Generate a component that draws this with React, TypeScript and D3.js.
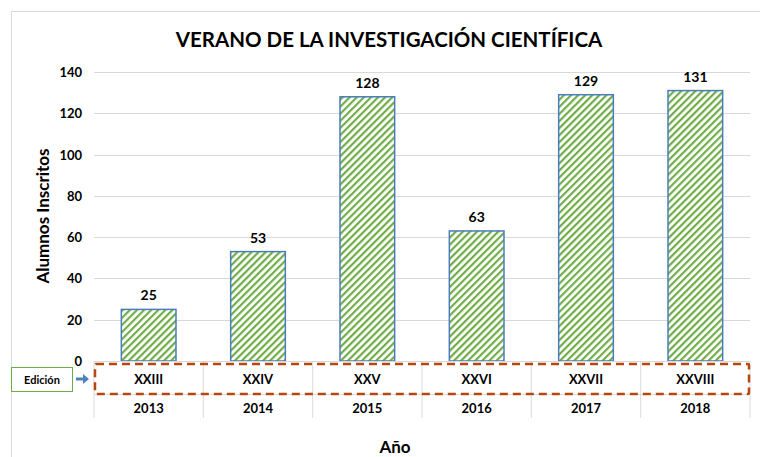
import React, { useEffect, useRef } from 'react';
import * as d3 from 'd3';

const years = ['2013', '2014', '2015', '2016', '2017', '2018'];
const editions = ['XXIII', 'XXIV', 'XXV', 'XXVI', 'XXVII', 'XXVIII'];
const students = [25, 53, 128, 63, 129, 131];
const yTicks = [0, 20, 40, 60, 80, 100, 120, 140];

const W = 760;
const H = 457;
const FONT = 'Lato, "Open Sans", sans-serif';

const App = () => {
  const ref = useRef<SVGSVGElement>(null);

  useEffect(() => {
    const svg = d3.select(ref.current);
    svg.selectAll('*').remove();

    const left = 94, right = 750, top = 72, bottom = 361;
    const x = d3.scaleBand().domain(years).range([left, right]).paddingInner(0.5).paddingOuter(0.25);
    const y = d3.scaleLinear().domain([0, 140]).range([bottom, top]);

    // hatch pattern (upward diagonal)
    const defs = svg.append('defs');
    const pat = defs.append('pattern')
      .attr('id', 'hatch')
      .attr('patternUnits', 'userSpaceOnUse')
      .attr('width', 5).attr('height', 5)
      .attr('patternTransform', 'rotate(45)');
    pat.append('rect').attr('width', 5).attr('height', 5).attr('fill', '#fff');
    pat.append('rect').attr('x', 0).attr('width', 2.2).attr('height', 5).attr('fill', '#70ad47');

    // chart frame
    svg.append('rect').attr('x', 11.5).attr('y', 11.5).attr('width', 760).attr('height', 460)
      .attr('fill', '#fff').attr('stroke', '#d9d9d9');

    svg.append('text').attr('x', 389).attr('y', 47).attr('text-anchor', 'middle')
      .attr('font-family', FONT).attr('font-weight', 700).attr('font-size', 20.5)
      .text('VERANO DE LA INVESTIGACIÓN CIENTÍFICA');

    // gridlines
    svg.append('g').selectAll('line').data(yTicks.slice(1)).join('line')
      .attr('x1', left).attr('x2', right)
      .attr('y1', d => Math.round(y(d)) + 0.5).attr('y2', d => Math.round(y(d)) + 0.5)
      .attr('stroke', '#d9d9d9');

    svg.append('g').selectAll('text').data(yTicks).join('text')
      .attr('x', 82).attr('y', d => y(d) + 5).attr('text-anchor', 'end')
      .attr('font-family', FONT).attr('font-weight', 700).attr('font-size', 13)
      .text(d => d);

    // bars
    svg.append('g').selectAll('rect').data(students).join('rect')
      .attr('x', (d, i) => x(years[i])!)
      .attr('y', d => y(d))
      .attr('width', x.bandwidth())
      .attr('height', d => bottom - y(d))
      .attr('fill', 'url(#hatch)')
      .attr('stroke', '#4a7ebb').attr('stroke-width', 1.5);

    svg.append('g').selectAll('text').data(students).join('text')
      .attr('x', (d, i) => x(years[i])! + x.bandwidth() / 2)
      .attr('y', d => y(d) - 9)
      .attr('text-anchor', 'middle')
      .attr('font-family', FONT).attr('font-weight', 700).attr('font-size', 14)
      .text(d => d);

    // data table
    const step = x.step();
    const cols = d3.range(years.length + 1).map(i => left + i * step);
    svg.append('g').selectAll('line').data(cols).join('line')
      .attr('x1', d => d).attr('x2', d => d).attr('y1', bottom).attr('y2', 418)
      .attr('stroke', '#d9d9d9');
    svg.append('line').attr('x1', left).attr('x2', right).attr('y1', bottom + 0.5).attr('y2', bottom + 0.5)
      .attr('stroke', '#d9d9d9');
    svg.append('line').attr('x1', left).attr('x2', right).attr('y1', 394.5).attr('y2', 394.5)
      .attr('stroke', '#d9d9d9');

    svg.append('g').selectAll('text').data(editions).join('text')
      .attr('x', (d, i) => x(years[i])! + x.bandwidth() / 2).attr('y', 384)
      .attr('text-anchor', 'middle')
      .attr('font-family', FONT).attr('font-weight', 700).attr('font-size', 13)
      .text(d => d);
    svg.append('g').selectAll('text').data(years).join('text')
      .attr('x', d => x(d)! + x.bandwidth() / 2).attr('y', 413)
      .attr('text-anchor', 'middle')
      .attr('font-family', FONT).attr('font-weight', 700).attr('font-size', 13)
      .text(d => d);

    svg.append('rect').attr('x', 95).attr('y', 364).attr('width', 654).attr('height', 30)
      .attr('fill', 'none').attr('stroke', '#b8470d').attr('stroke-width', 2.5)
      .attr('stroke-dasharray', '8,5').attr('rx', 1);

    // Edición callout
    svg.append('rect').attr('x', 11.5).attr('y', 367.5).attr('width', 61).attr('height', 24)
      .attr('fill', '#fff').attr('stroke', '#70ad47').attr('stroke-width', 1);
    svg.append('text').attr('x', 42).attr('y', 384).attr('text-anchor', 'middle')
      .attr('font-family', FONT).attr('font-weight', 700).attr('font-size', 11)
      .text('Edición');
    svg.append('line').attr('x1', 76).attr('x2', 84).attr('y1', 379).attr('y2', 379)
      .attr('stroke', '#4f81bd').attr('stroke-width', 3);
    svg.append('path').attr('d', 'M83,374 L89,379 L83,384 Z').attr('fill', '#4f81bd');

    // axis titles
    svg.append('text').attr('transform', 'translate(49,216) rotate(-90)').attr('text-anchor', 'middle')
      .attr('font-family', FONT).attr('font-weight', 700).attr('font-size', 17)
      .text('Alumnos Inscritos');
    svg.append('text').attr('x', 395).attr('y', 453).attr('text-anchor', 'middle')
      .attr('font-family', FONT).attr('font-weight', 700).attr('font-size', 17)
      .text('Año');
  }, []);

  return <svg ref={ref} width={W} height={H} style={{ display: 'block', position: 'absolute', left: 0, top: 0 }}></svg>;
};

export default App;
